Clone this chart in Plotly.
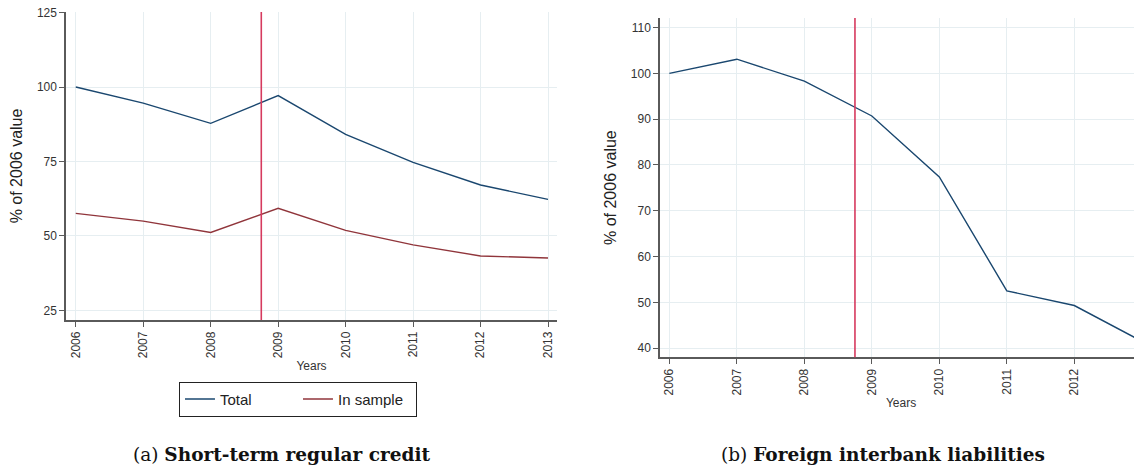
import plotly.graph_objects as go

# data
years = [2006, 2007, 2008, 2009, 2010, 2011, 2012, 2013]
credit_total = [100.0, 94.6, 87.8, 97.1, 84.1, 74.7, 67.1, 62.3]
credit_in_sample = [57.6, 55.0, 51.2, 59.3, 51.9, 47.0, 43.3, 42.6]
interbank_total = [100.0, 103.1, 98.3, 90.7, 77.4, 52.5, 49.3, 41.5]
crisis_date = 2008.75

left_yticks = [25, 50, 75, 100, 125]
right_yticks = [40, 50, 60, 70, 80, 90, 100, 110]

caption_a = "(a) <b>Short-term regular credit</b>"
caption_b = "(b) <b>Foreign interbank liabilities</b>"

navy = '#1a476f'
maroon = '#90353b'
crimson = '#d63a5e'
grid = '#e6eef1'
axis_col = '#5a5a5a'
sans = 'Liberation Sans, Arial, sans-serif'

fig = go.Figure()
fig.add_trace(go.Scatter(x=years, y=credit_total, mode='lines', name='Total',
                         line=dict(color=navy, width=1.4), xaxis='x', yaxis='y'))
fig.add_trace(go.Scatter(x=years, y=credit_in_sample, mode='lines', name='In sample',
                         line=dict(color=maroon, width=1.4), xaxis='x', yaxis='y'))
fig.add_trace(go.Scatter(x=years, y=interbank_total, mode='lines', name='Total',
                         line=dict(color=navy, width=1.4), xaxis='x2', yaxis='y2',
                         showlegend=False))

# crisis marker on both panels
for xr, yr in [('x', 'y domain'), ('x2', 'y2 domain')]:
    fig.add_shape(type='line', xref=xr, yref=yr, x0=crisis_date, x1=crisis_date,
                  y0=0, y1=1, line=dict(color=crimson, width=1.6), layer='above')

xaxis_common = dict(tickmode='array', tickvals=years, tickangle=-90, automargin=False,
                    ticklabeloverflow='allow',
                    showgrid=True, gridcolor=grid, gridwidth=1,
                    showline=True, linecolor=axis_col, linewidth=1.5,
                    ticks='outside', ticklen=5, tickcolor=axis_col,
                    tickfont=dict(size=12, color='#333333', family=sans),
                    zeroline=False,
                    title=dict(text='Years', font=dict(size=12, color='#333333', family=sans),
                               standoff=4))
yaxis_common = dict(showgrid=True, gridcolor=grid, gridwidth=1, automargin=False,
                    ticklabeloverflow='allow',
                    showline=True, linecolor=axis_col, linewidth=1.5,
                    ticks='outside', ticklen=5, tickcolor=axis_col,
                    tickfont=dict(size=12, color='#333333', family=sans),
                    zeroline=False,
                    title=dict(text='% of 2006 value', font=dict(size=16, color='#222222', family=sans)))

# page body has an 8px margin, so the figure is sized to fill what is left
fig.update_layout(
    width=1134, height=460, autosize=False,
    margin=dict(l=0, r=0, t=0, b=0, pad=0),
    paper_bgcolor='white', plot_bgcolor='white',
    xaxis=dict(xaxis_common, domain=[0.0512, 0.4841], range=[2005.856, 2013.133], anchor='y'),
    yaxis=dict(yaxis_common, domain=[0.3217, 0.9915], range=[21.8, 125.2], anchor='x',
               tickvals=left_yticks),
    xaxis2=dict(xaxis_common, domain=[0.5750, 1.0], range=[2005.862, 2013.003], anchor='y2'),
    yaxis2=dict(yaxis_common, domain=[0.2407, 0.9783], range=[38.0, 112.1], anchor='x2',
                tickvals=right_yticks),
    legend=dict(orientation='h', x=0.2557, xanchor='center', y=0.1876, yanchor='top',
                bordercolor='#222222', borderwidth=1, font=dict(size=15, family=sans, color='#222222'),
                entrywidth=73, entrywidthmode='pixels'),
    showlegend=True,
)
fig.layout.yaxis.title.standoff = 12
fig.layout.yaxis2.title.standoff = 10

for txt, xc in [(caption_a, 0.2416), (caption_b, 0.7716)]:
    fig.add_annotation(text=txt, x=xc, y=0.0283, xref='paper', yref='paper',
                       xanchor='center', yanchor='middle', showarrow=False,
                       font=dict(family='DejaVu Serif, serif', size=18.5, color='#111111'))

fig.write_html("out.html")
